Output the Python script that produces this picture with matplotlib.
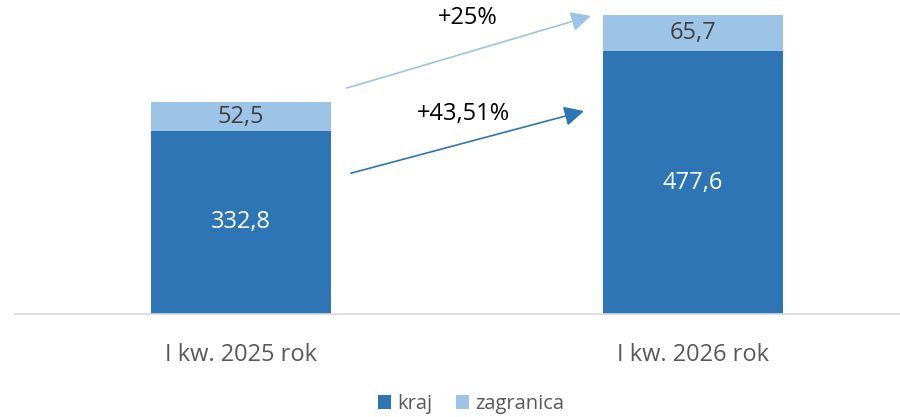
import matplotlib.pyplot as plt
import numpy as np

plt.rcParams['font.family'] = ['Open Sans', 'DejaVu Sans']

# data
categories = ['I kw. 2025 rok', 'I kw. 2026 rok']
kraj = [332.8, 477.6]
zagranica = [52.5, 65.7]
growth_labels = ['+25%', '+43,51%']

dark = '#2E75B6'
light = '#9DC3E6'

fig = plt.figure(figsize=(9, 4.17), dpi=100)
ax = fig.add_axes([15 / 900, 1 - 314 / 417, 885 / 900, 314 / 417])

x = np.arange(len(categories))
w = 0.398
b1 = ax.bar(x, kraj, w, color=dark, label='kraj')
b2 = ax.bar(x, zagranica, w, bottom=kraj, color=light, label='zagranica')

for xi, k, z in zip(x, kraj, zagranica):
    ax.text(xi, k / 2, f'{k:.1f}'.replace('.', ','), ha='center', va='center',
            color='white', fontsize=17)
    ax.text(xi, k + z / 2, f'{z:.1f}'.replace('.', ','), ha='center', va='center',
            color='#404040', fontsize=17)

ax.set_xlim(-0.5, 1.458)
ax.set_ylim(0, 571)

# growth arrows
ax.annotate('', xy=(0.774, 542), xytext=(0.2345, 411),
            arrowprops=dict(arrowstyle='-|>', color=light, lw=1.2,
                            mutation_scale=30, shrinkA=0, shrinkB=0))
ax.annotate('', xy=(0.759, 369), xytext=(0.243, 256),
            arrowprops=dict(arrowstyle='-|>', color=dark, lw=1.2,
                            mutation_scale=30, shrinkA=0, shrinkB=0))
ax.text(0.502, 538, growth_labels[0], ha='center', va='center', fontsize=17, color='black')
ax.text(0.493, 364, growth_labels[1], ha='center', va='center', fontsize=17, color='black')

for s in ['top', 'right', 'left']:
    ax.spines[s].set_visible(False)
ax.spines['bottom'].set_color('#D9D9D9')
ax.spines['bottom'].set_linewidth(1.2)
ax.set_yticks([])
ax.set_xticks(x)
ax.set_xticklabels(categories, fontsize=17, color='#595959')
ax.tick_params(axis='x', length=0, pad=21)

fig.legend(handles=[b1, b2], loc='center', bbox_to_anchor=(471 / 900, 1 - 404 / 417),
           ncol=2, frameon=False, fontsize=14.5, labelcolor='#595959',
           handlelength=0.65, handleheight=0.65, handletextpad=0.3, columnspacing=1.2)

fig.savefig('out.png', dpi=100)
